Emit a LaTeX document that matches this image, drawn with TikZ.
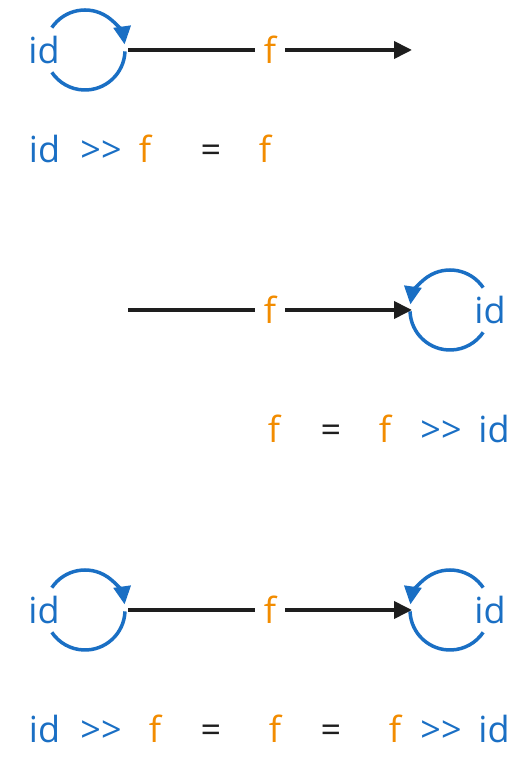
\documentclass[tikz,border=0pt]{standalone}
\usepackage{fontspec}
\setmainfont{Open Sans}
\definecolor{IDblue}{HTML}{1A6FC4}
\definecolor{Forange}{HTML}{F28C00}
\definecolor{ARdark}{HTML}{1E1E1E}
\usetikzlibrary{arrows.meta,calc,positioning}
\newcommand{\cmp}{>{}>}

\begin{document}
\begin{tikzpicture}[x=1pt,y=1pt,>={Triangle[length=18pt,width=17pt]},
  every node/.style={font=\fontsize{36}{40}\selectfont,inner sep=0pt},
  idtext/.style={text=IDblue},
  ftext/.style={text=Forange,minimum width=30pt},
  eqtext/.style={text=ARdark},
  fml/.style={anchor=base},
  idloop/.style={draw=IDblue,line width=3.5pt},
  mapline/.style={draw=ARdark,line width=3.8pt}]
  \useasboundingbox (0,0) rectangle (518,761);

  % id >> f = f
  \coordinate (c1) at (85,711);
  \node[idtext] (id1) at (44,711) {id};
  \draw[idloop,->] ([shift={(146:40)}]c1) arc[start angle=146,end angle=8,radius=40];
  \draw[idloop] ([shift={(-2:40)}]c1) arc[start angle=-2,end angle=-146,radius=40];
  \coordinate (s1) at (128,711);
  \node[ftext] (f1) at (270,711) {f};
  \coordinate (e1) at (412,711);
  \draw[mapline] (s1) -- (f1);
  \draw[mapline,->] (f1) -- (e1);
  \node[fml,idtext] (l1a) at (44.5,598) {id};
  \node[fml,idtext] (l1b) at (101,598) {\cmp};
  \node[fml,ftext] (l1c) at (145,598) {f};
  \node[fml,eqtext] (l1d) at (211,598) {=};
  \node[fml,ftext] (l1e) at (265,598) {f};

  % f >> id = f
  \coordinate (c2) at (450,451);
  \node[idtext] (id2) at (490,451) {id};
  \draw[idloop,->] ([shift={(34:40)}]c2) arc[start angle=34,end angle=172,radius=40];
  \draw[idloop] ([shift={(182:40)}]c2) arc[start angle=182,end angle=326,radius=40];
  \coordinate (s2) at (128,451);
  \node[ftext] (f2) at (270,451) {f};
  \coordinate (e2) at (412,451);
  \draw[mapline] (s2) -- (f2);
  \draw[mapline,->] (f2) -- (e2);
  \node[fml,ftext] (l2a) at (274,318) {f};
  \node[fml,eqtext] (l2b) at (331,318) {=};
  \node[fml,ftext] (l2c) at (385,318) {f};
  \node[fml,idtext] (l2d) at (441,318) {\cmp};
  \node[fml,idtext] (l2e) at (494,318) {id};

  % both sides
  \coordinate (c3l) at (85,151);
  \coordinate (c3r) at (450,151);
  \node[idtext] (id3l) at (44,151) {id};
  \node[idtext] (id3r) at (490,151) {id};
  \draw[idloop,->] ([shift={(146:40)}]c3l) arc[start angle=146,end angle=8,radius=40];
  \draw[idloop] ([shift={(-2:40)}]c3l) arc[start angle=-2,end angle=-146,radius=40];
  \draw[idloop,->] ([shift={(34:40)}]c3r) arc[start angle=34,end angle=172,radius=40];
  \draw[idloop] ([shift={(182:40)}]c3r) arc[start angle=182,end angle=326,radius=40];
  \coordinate (s3) at (128,151);
  \node[ftext] (f3) at (270,151) {f};
  \coordinate (e3) at (412,151);
  \draw[mapline] (s3) -- (f3);
  \draw[mapline,->] (f3) -- (e3);
  \node[fml,idtext] (l3a) at (44.5,18) {id};
  \node[fml,idtext] (l3b) at (101,18) {\cmp};
  \node[fml,ftext] (l3c) at (155,18) {f};
  \node[fml,eqtext] (l3d) at (211,18) {=};
  \node[fml,ftext] (l3e) at (275,18) {f};
  \node[fml,eqtext] (l3f) at (331,18) {=};
  \node[fml,ftext] (l3g) at (395,18) {f};
  \node[fml,idtext] (l3h) at (441,18) {\cmp};
  \node[fml,idtext] (l3i) at (494,18) {id};
\end{tikzpicture}
\end{document}
